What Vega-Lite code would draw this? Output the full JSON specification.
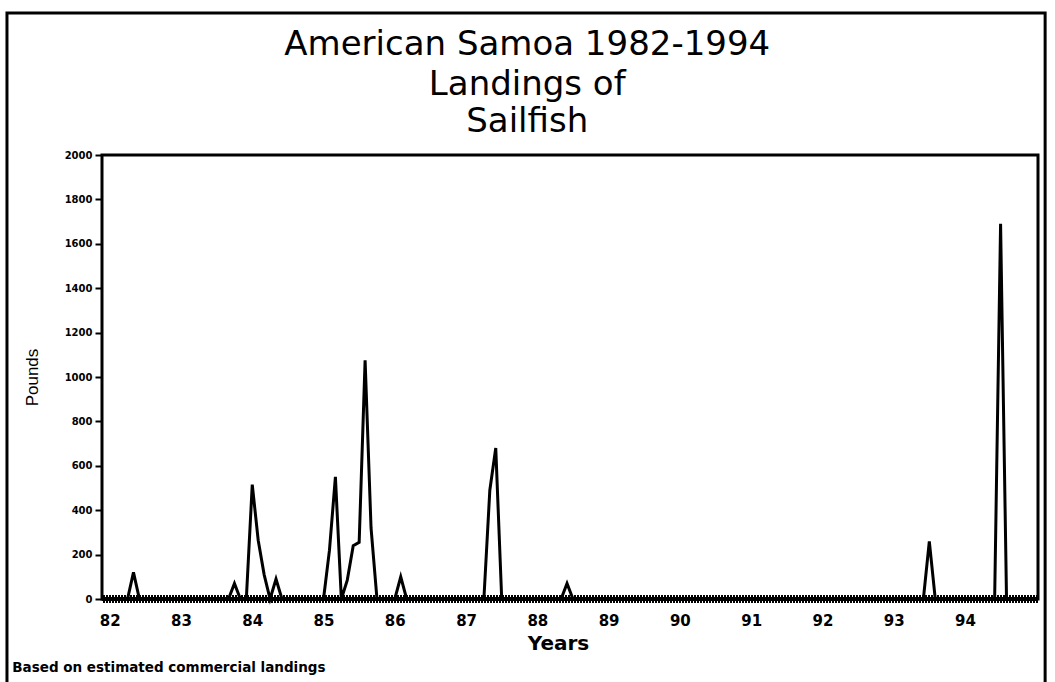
{
  "$schema": "https://vega.github.io/schema/vega-lite/v6.json",
  "width": 936,
  "height": 444,
  "autosize": {"type": "none"},
  "padding": {"left": 102, "top": 155, "right": 17, "bottom": 83},
  "background": "white",
  "config": {"view": {"stroke": "black", "strokeWidth": 3}, "font": "DejaVu Sans"},
  "data": {"values": [
    {"month":0,"pounds":0},{"month":1,"pounds":0},{"month":2,"pounds":0},{"month":3,"pounds":0},{"month":4,"pounds":120},{"month":5,"pounds":0},{"month":6,"pounds":0},{"month":7,"pounds":0},{"month":8,"pounds":0},{"month":9,"pounds":0},{"month":10,"pounds":0},{"month":11,"pounds":0},
    {"month":12,"pounds":0},{"month":13,"pounds":0},{"month":14,"pounds":0},{"month":15,"pounds":0},{"month":16,"pounds":0},{"month":17,"pounds":0},{"month":18,"pounds":0},{"month":19,"pounds":0},{"month":20,"pounds":0},{"month":21,"pounds":70},{"month":22,"pounds":0},{"month":23,"pounds":0},
    {"month":24,"pounds":515},{"month":25,"pounds":265},{"month":26,"pounds":110},{"month":27,"pounds":0},{"month":28,"pounds":90},{"month":29,"pounds":0},{"month":30,"pounds":0},{"month":31,"pounds":0},{"month":32,"pounds":0},{"month":33,"pounds":0},{"month":34,"pounds":0},{"month":35,"pounds":0},
    {"month":36,"pounds":0},{"month":37,"pounds":220},{"month":38,"pounds":550},{"month":39,"pounds":0},{"month":40,"pounds":85},{"month":41,"pounds":240},{"month":42,"pounds":255},{"month":43,"pounds":1075},{"month":44,"pounds":320},{"month":45,"pounds":0},{"month":46,"pounds":0},{"month":47,"pounds":0},
    {"month":48,"pounds":0},{"month":49,"pounds":100},{"month":50,"pounds":0},{"month":51,"pounds":0},{"month":52,"pounds":0},{"month":53,"pounds":0},{"month":54,"pounds":0},{"month":55,"pounds":0},{"month":56,"pounds":0},{"month":57,"pounds":0},{"month":58,"pounds":0},{"month":59,"pounds":0},
    {"month":60,"pounds":0},{"month":61,"pounds":0},{"month":62,"pounds":0},{"month":63,"pounds":0},{"month":64,"pounds":490},{"month":65,"pounds":680},{"month":66,"pounds":0},{"month":67,"pounds":0},{"month":68,"pounds":0},{"month":69,"pounds":0},{"month":70,"pounds":0},{"month":71,"pounds":0},
    {"month":72,"pounds":0},{"month":73,"pounds":0},{"month":74,"pounds":0},{"month":75,"pounds":0},{"month":76,"pounds":0},{"month":77,"pounds":70},{"month":78,"pounds":0},{"month":79,"pounds":0},{"month":80,"pounds":0},{"month":81,"pounds":0},{"month":82,"pounds":0},{"month":83,"pounds":0},
    {"month":84,"pounds":0},{"month":85,"pounds":0},{"month":86,"pounds":0},{"month":87,"pounds":0},{"month":88,"pounds":0},{"month":89,"pounds":0},{"month":90,"pounds":0},{"month":91,"pounds":0},{"month":92,"pounds":0},{"month":93,"pounds":0},{"month":94,"pounds":0},{"month":95,"pounds":0},
    {"month":96,"pounds":0},{"month":97,"pounds":0},{"month":98,"pounds":0},{"month":99,"pounds":0},{"month":100,"pounds":0},{"month":101,"pounds":0},{"month":102,"pounds":0},{"month":103,"pounds":0},{"month":104,"pounds":0},{"month":105,"pounds":0},{"month":106,"pounds":0},{"month":107,"pounds":0},
    {"month":108,"pounds":0},{"month":109,"pounds":0},{"month":110,"pounds":0},{"month":111,"pounds":0},{"month":112,"pounds":0},{"month":113,"pounds":0},{"month":114,"pounds":0},{"month":115,"pounds":0},{"month":116,"pounds":0},{"month":117,"pounds":0},{"month":118,"pounds":0},{"month":119,"pounds":0},
    {"month":120,"pounds":0},{"month":121,"pounds":0},{"month":122,"pounds":0},{"month":123,"pounds":0},{"month":124,"pounds":0},{"month":125,"pounds":0},{"month":126,"pounds":0},{"month":127,"pounds":0},{"month":128,"pounds":0},{"month":129,"pounds":0},{"month":130,"pounds":0},{"month":131,"pounds":0},
    {"month":132,"pounds":0},{"month":133,"pounds":0},{"month":134,"pounds":0},{"month":135,"pounds":0},{"month":136,"pounds":0},{"month":137,"pounds":0},{"month":138,"pounds":260},{"month":139,"pounds":0},{"month":140,"pounds":0},{"month":141,"pounds":0},{"month":142,"pounds":0},{"month":143,"pounds":0},
    {"month":144,"pounds":0},{"month":145,"pounds":0},{"month":146,"pounds":0},{"month":147,"pounds":0},{"month":148,"pounds":0},{"month":149,"pounds":0},{"month":150,"pounds":1690},{"month":151,"pounds":0},{"month":152,"pounds":0},{"month":153,"pounds":0},{"month":154,"pounds":0},{"month":155,"pounds":0}
  ]},
  "layer": [
    {
      "mark": {"type": "line", "color": "black", "strokeWidth": 3},
      "encoding": {
        "x": {
          "field": "month", "type": "quantitative",
          "scale": {"domain": [-1.3, 156.3], "nice": false, "zero": false},
          "axis": {
            "values": [0, 12, 24, 36, 48, 60, 72, 84, 96, 108, 120, 132, 144],
            "labelExpr": "'' + (82 + datum.value / 12)",
            "domain": false, "ticks": false, "grid": false,
            "labelPadding": 14, "labelFontSize": 15, "labelFontWeight": "bold",
            "labelFont": "DejaVu Sans", "labelColor": "black",
            "title": "Years", "titleFontSize": 20, "titleFontWeight": "bold",
            "titleFont": "DejaVu Sans", "titleColor": "black", "titlePadding": 5,
            "titleX": 456
          }
        },
        "y": {
          "field": "pounds", "type": "quantitative",
          "scale": {"domain": [0, 2000], "nice": false},
          "axis": {
            "values": [0, 200, 400, 600, 800, 1000, 1200, 1400, 1600, 1800, 2000],
            "format": "d",
            "domain": false, "grid": false,
            "tickSize": 7, "tickWidth": 2, "tickColor": "black",
            "labelPadding": 3, "labelFontSize": 10, "labelFontWeight": "bold",
            "labelFont": "DejaVu Sans", "labelColor": "black",
            "title": "Pounds", "titleFontSize": 17, "titleFontWeight": "normal",
            "titleFont": "Liberation Sans Narrow, Liberation Sans", "titleColor": "black",
            "titleX": -70, "titleY": 222, "titleAngle": -90,
            "titleAlign": "center", "titleBaseline": "middle"
          }
        }
      }
    },
    {
      "mark": {"type": "rule", "color": "black", "strokeWidth": 7, "strokeDash": [1.5, 1.5]},
      "encoding": {"y": {"datum": 0}}
    },
    {
      "mark": {"type": "rule", "color": "black", "strokeWidth": 2.5},
      "encoding": {"y": {"datum": 0}}
    },
    {
      "data": {"values": [{"line": "American Samoa 1982-1994"}]},
      "mark": {"type": "text", "align": "center", "baseline": "middle", "fontSize": 34, "font": "DejaVu Sans", "color": "black"},
      "encoding": {
        "x": {"datum": 70.3},
        "y": {"datum": 2495},
        "text": {"field": "line"}
      }
    },
    {
      "data": {"values": [{"line": "Landings of"}]},
      "mark": {"type": "text", "align": "center", "baseline": "middle", "fontSize": 34, "font": "DejaVu Sans", "color": "black"},
      "encoding": {
        "x": {"datum": 70.3},
        "y": {"datum": 2315},
        "text": {"field": "line"}
      }
    },
    {
      "data": {"values": [{"line": "Sailfish"}]},
      "mark": {"type": "text", "align": "center", "baseline": "middle", "fontSize": 34, "font": "DejaVu Sans", "color": "black"},
      "encoding": {
        "x": {"datum": 70.3},
        "y": {"datum": 2149},
        "text": {"field": "line"}
      }
    },
    {
      "data": {"values": [{"note": "Based on estimated commercial landings"}]},
      "mark": {"type": "text", "align": "left", "baseline": "alphabetic", "fontSize": 13.5, "fontWeight": "bold", "font": "DejaVu Sans", "color": "black"},
      "encoding": {
        "x": {"datum": -16.4},
        "y": {"datum": -329},
        "text": {"field": "note"}
      }
    },
    {
      "data": {"values": [{"frame": 1}]},
      "mark": {"type": "rect", "filled": false, "color": "black", "strokeWidth": 3},
      "encoding": {
        "x": {"datum": -17.3},
        "x2": {"datum": 157.5},
        "y": {"datum": 2640},
        "y2": {"datum": -500}
      }
    }
  ]
}
